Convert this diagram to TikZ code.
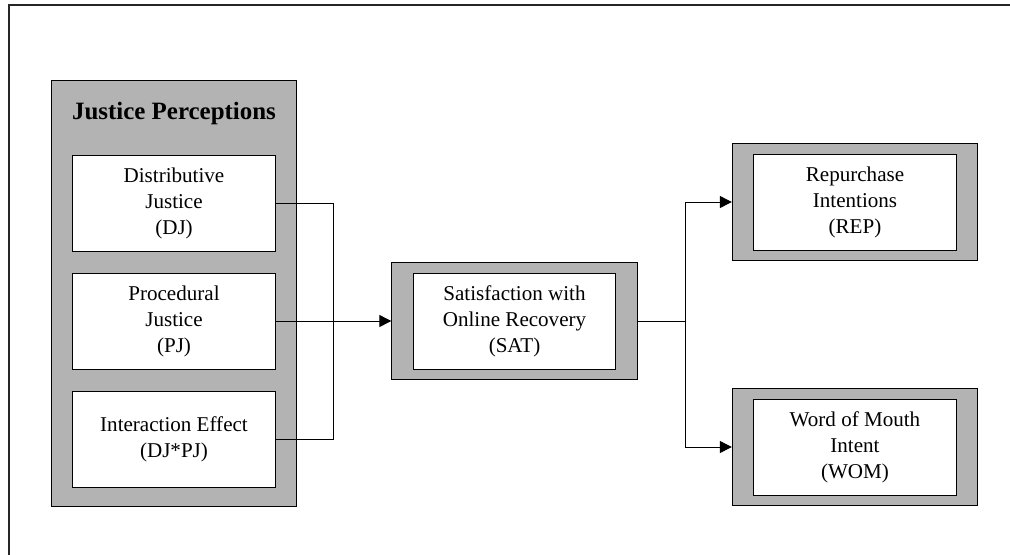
\documentclass[tikz,border=0pt]{standalone}
\usepackage{fontspec}
\setmainfont{Liberation Serif}
\usetikzlibrary{arrows.meta,positioning}
\definecolor{boxgray}{RGB}{179,179,179}

\begin{document}
\begin{tikzpicture}[x=0.75pt,y=-0.75pt,>={Triangle[length=9pt,width=9pt]},line width=0.75pt,node distance=15.75pt,
  outer box/.style={rectangle,draw,fill=boxgray,minimum width=184pt,minimum height=88pt,inner sep=0pt},
  inner box/.style={rectangle,draw,fill=white,minimum width=152pt,minimum height=72pt,align=center,inner sep=0pt,font=\fontsize{15.8}{19.5}\selectfont}]

  \useasboundingbox (0,0) rectangle (1010,554);
  \fill[white] (-6,-6) rectangle (1016,560);
  \draw[black!85,line width=1pt] (1016,5) -- (9,5) -- (9,560);

  % justice perceptions
  \node[outer box,minimum width=183.75pt,minimum height=319.5pt] (JPbox) at (173.5,293) {};
  \node[font=\fontsize{18.7}{22}\selectfont\bfseries] (title) at (174,113) {Justice Perceptions};
  \node[inner box] (DJ) at (174,203) {Distributive\\Justice\\(DJ)};
  \node[inner box] (PJ) [below=of DJ] {Procedural\\Justice\\(PJ)};
  \node[inner box] (IE) [below=of PJ] {Interaction Effect\\(DJ*PJ)};

  % satisfaction and outcomes
  \node[outer box] (SATbox) at (PJ.east -| 514.5,0) {};
  \node[inner box] (SAT) at (SATbox) {Satisfaction with\\Online Recovery\\(SAT)};
  \node[outer box] (REPbox) at (855,202) {};
  \node[inner box] (REP) at (REPbox) {Repurchase\\Intentions\\(REP)};
  \node[outer box] (WOMbox) at (855,447) {};
  \node[inner box] (WOM) at (WOMbox) {Word of Mouth\\Intent\\(WOM)};

  \path (PJ.east) ++(58,0) coordinate (j1);
  \path (SATbox.east) ++(48,0) coordinate (j2);

  \draw (DJ.east) -| (j1);
  \draw (IE.east) -| (j1);
  \draw[->] (PJ.east) -- (SATbox.west);
  \draw (SATbox.east) -- (j2);
  \draw[->] (j2) |- (REPbox.west);
  \draw[->] (j2) |- (WOMbox.west);
\end{tikzpicture}
\end{document}
